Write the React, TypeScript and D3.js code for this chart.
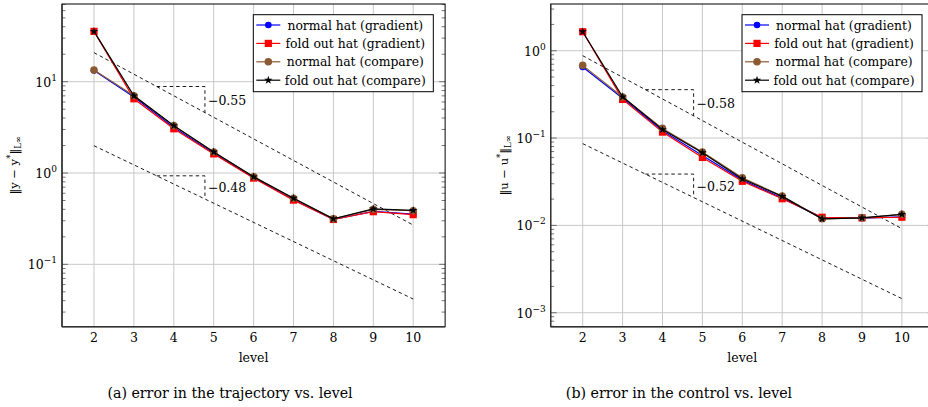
import * as d3 from 'd3'

const width = 928
const height = 407

// shared x positions
const levels = [2, 3, 4, 5, 6, 7, 8, 9, 10]
const refLevels = [2, 10]
const triLevels = [3.57, 4.78]

// (a) trajectory error
const trajNormalGrad = [13.3, 6.8, 3.15, 1.65, 0.89, 0.51, 0.31, 0.38, 0.355]
const trajFoldGrad = [35.6, 6.5, 3.05, 1.62, 0.88, 0.505, 0.31, 0.377, 0.35]
const trajNormalComp = [13.4, 7.0, 3.3, 1.7, 0.91, 0.53, 0.315, 0.4, 0.386]
const trajFoldComp = [35.6, 7.0, 3.3, 1.7, 0.91, 0.53, 0.315, 0.405, 0.39]
const trajRefUpper = [20.8, 0.269]
const trajRefLower = [1.99, 0.0417]
const trajSlopes = ['−0.55', '−0.48']
const trajTicks = [-1, 0, 1]

// (b) control error
const ctrlNormalGrad = [0.65, 0.285, 0.121, 0.063, 0.033, 0.0205, 0.0122, 0.0121, 0.0125]
const ctrlFoldGrad = [1.65, 0.277, 0.117, 0.06, 0.032, 0.0202, 0.0124, 0.0122, 0.0124]
const ctrlNormalComp = [0.68, 0.295, 0.129, 0.069, 0.035, 0.0217, 0.0119, 0.0122, 0.0134]
const ctrlFoldComp = [1.65, 0.297, 0.125, 0.068, 0.034, 0.0215, 0.0119, 0.0122, 0.0134]
const ctrlRefUpper = [0.877, 0.00917]
const ctrlRefLower = [0.0863, 0.00145]
const ctrlSlopes = ['−0.58', '−0.52']
const ctrlTicks = [-3, -2, -1, 0]

const seriesNames = [
  'normal hat (gradient)',
  'fold out hat (gradient)',
  'normal hat (compare)',
  'fold out hat (compare)',
]
const seriesColors = ['#0000ff', '#ff0000', '#8c5a32', '#000000']
const seriesMarks = ['circle', 'square', 'circle', 'star']

const serif = 'DejaVu Serif'
const top = 4
const bottom = 326.7

function Mark({ kind, x, y, color }: { kind: string; x: number; y: number; color: string }) {
  if (kind === 'square')
    return <rect x={x - 3.6} y={y - 3.6} width={7.2} height={7.2} fill={color} />
  if (kind === 'star')
    return (
      <path
        d={d3.symbol(d3.symbolStar, 22)() ?? ''}
        transform={`translate(${x},${y})`}
        fill={color}
      />
    )
  return <circle cx={x} cy={y} r={color === '#0000ff' ? 3.3 : 3.8} fill={color} />
}

type PlotProps = {
  left: number
  logTop: number
  logBottom: number
  series: number[][]
  refUpper: number[]
  refLower: number[]
  slopes: string[]
  ticks: number[]
  ylabel: string
  ylabelX: number
}

function Plot(p: PlotProps) {
  const x = d3.scaleLinear([2, 10], [p.left + 32, p.left + 32 + 8 * 39.9])
  const right = x(10.8)
  const y = d3.scaleLog([10 ** p.logBottom, 10 ** p.logTop], [bottom, top])
  const line = d3
    .line<number>()
    .x((_, i) => x(levels[i]))
    .y(d => y(d))
  const refLine = d3
    .line<number>()
    .x((_, i) => x(refLevels[i]))
    .y(d => y(d))

  const minor: number[] = []
  for (let e = Math.floor(p.logBottom); e <= Math.ceil(p.logTop); e++)
    for (let m = 2; m <= 9; m++) {
      const v = m * 10 ** e
      if (Math.log10(v) > p.logBottom && Math.log10(v) < p.logTop) minor.push(v)
    }

  // value of a reference line at a given level (log interpolation)
  const refAt = (ref: number[], l: number) =>
    10 ** (Math.log10(ref[0]) + ((Math.log10(ref[1]) - Math.log10(ref[0])) * (l - 2)) / 8)

  const legendLeft = right - 191.8
  const legendTop = 14.7

  return (
    <g fontFamily={serif}>
      <defs>
        <clipPath id={`clip${p.left}`}>
          <rect x={p.left} y={top} width={right - p.left} height={bottom - top} />
        </clipPath>
      </defs>
      {/* grid */}
      {levels.map(l => (
        <line key={l} x1={x(l)} x2={x(l)} y1={top} y2={bottom} stroke="#c8c8c8" />
      ))}
      {p.ticks.map(t => (
        <line key={t} x1={p.left} x2={right} y1={y(10 ** t)} y2={y(10 ** t)} stroke="#c8c8c8" />
      ))}
      {/* minor ticks */}
      {minor.map(v => (
        <g key={v} stroke="#555" strokeWidth={0.8}>
          <line x1={p.left} x2={p.left + 3.5} y1={y(v)} y2={y(v)} />
          <line x1={right} x2={right - 3.5} y1={y(v)} y2={y(v)} />
        </g>
      ))}
      {p.ticks.map(t => (
        <g key={t} stroke="#555" strokeWidth={0.8}>
          <line x1={p.left} x2={p.left + 6} y1={y(10 ** t)} y2={y(10 ** t)} />
          <line x1={right} x2={right - 6} y1={y(10 ** t)} y2={y(10 ** t)} />
        </g>
      ))}
      {/* reference lines and slope triangles */}
      <g clipPath={`url(#clip${p.left})`} fill="none" stroke="#000" strokeWidth={0.9} strokeDasharray="3.5,3">
        {[p.refUpper, p.refLower].map((ref, k) => {
          const ya = y(refAt(ref, triLevels[0]))
          const yb = y(refAt(ref, triLevels[1]))
          return (
            <g key={k}>
              <path d={refLine(ref) ?? ''} />
              <path d={`M${x(triLevels[0])},${ya}H${x(triLevels[1])}V${yb}`} />
            </g>
          )
        })}
      </g>
      {[p.refUpper, p.refLower].map((ref, k) => {
        const ya = y(refAt(ref, triLevels[0]))
        const yb = y(refAt(ref, triLevels[1]))
        return (
          <text key={k} x={x(triLevels[1]) + 3} y={(ya + yb) / 2 + 5} fontSize={12.5}>
            {p.slopes[k]}
          </text>
        )
      })}
      {/* series */}
      {p.series.map((s, k) => (
        <g key={k}>
          <path d={line(s) ?? ''} fill="none" stroke={seriesColors[k]} strokeWidth={1.2} />
          {s.map((v, i) => (
            <Mark key={i} kind={seriesMarks[k]} x={x(levels[i])} y={y(v)} color={seriesColors[k]} />
          ))}
        </g>
      ))}
      {/* axis box */}
      <rect x={p.left} y={top} width={right - p.left} height={bottom - top} fill="none" stroke="#000" strokeWidth={1} />
      <line x1={p.left} x2={right} y1={bottom} y2={bottom} stroke="#333" strokeWidth={1.4} />
      <line x1={p.left} x2={p.left} y1={top} y2={bottom} stroke="#333" strokeWidth={1.4} />
      {/* tick labels */}
      {levels.map(l => (
        <text key={l} x={x(l)} y={342} textAnchor="middle" fontSize={12.5}>
          {l}
        </text>
      ))}
      {p.ticks.map(t => (
        <text key={t} x={p.left - 5} y={y(10 ** t) + 5} textAnchor="end" fontSize={12.5}>
          10
          <tspan dy={-6} fontSize={9}>
            {t < 0 ? `−${-t}` : t}
          </tspan>
        </text>
      ))}
      <text x={(p.left + right) / 2} y={362} textAnchor="middle" fontSize={12.5}>
        level
      </text>
      <text
        transform={`translate(${p.ylabelX},${(top + bottom) / 2}) rotate(-90)`}
        textAnchor="middle"
        fontSize={11.5}
      >
        {`‖${p.ylabel} − ${p.ylabel}`}
        <tspan dy={-5} fontSize={8.5}>*</tspan>
        <tspan dy={5}>‖</tspan>
        <tspan dy={3} fontSize={8.5}>L∞</tspan>
      </text>
      {/* legend */}
      <rect x={legendLeft} y={legendTop} width={180} height={77} fill="#fff" stroke="#000" strokeWidth={1} />
      {seriesNames.map((name, k) => {
        const cy = legendTop + 10.3 + k * 18.4
        return (
          <g key={name}>
            <line x1={legendLeft + 3} x2={legendLeft + 27} y1={cy} y2={cy} stroke={seriesColors[k]} strokeWidth={1.2} />
            <Mark kind={seriesMarks[k]} x={legendLeft + 15} y={cy} color={seriesColors[k]} />
            <text x={legendLeft + 102} y={cy + 4.5} textAnchor="middle" fontSize={12.4}>
              {name}
            </text>
          </g>
        )
      })}
    </g>
  )
}

export default function App() {
  return (
    <svg
      width={width}
      height={height}
      viewBox={`0 0 ${width} ${height}`}
      style={{ position: 'absolute', left: 0, top: 0, background: '#fff' }}
    >
      <Plot
        left={62}
        logTop={1.851}
        logBottom={-1.683}
        series={[trajNormalGrad, trajFoldGrad, trajNormalComp, trajFoldComp]}
        refUpper={trajRefUpper}
        refLower={trajRefLower}
        slopes={trajSlopes}
        ticks={trajTicks}
        ylabel="y"
        ylabelX={18}
      />
      <Plot
        left={550.7}
        logTop={0.535}
        logBottom={-3.16}
        series={[ctrlNormalGrad, ctrlFoldGrad, ctrlNormalComp, ctrlFoldComp]}
        refUpper={ctrlRefUpper}
        refLower={ctrlRefLower}
        slopes={ctrlSlopes}
        ticks={ctrlTicks}
        ylabel="u"
        ylabelX={508}
      />
      <g fontFamily={serif} fontSize={14.2}>
        <text x={230} y={398} textAnchor="middle">
          (a) error in the trajectory vs. level
        </text>
        <text x={679} y={398} textAnchor="middle">
          (b) error in the control vs. level
        </text>
      </g>
    </svg>
  )
}
